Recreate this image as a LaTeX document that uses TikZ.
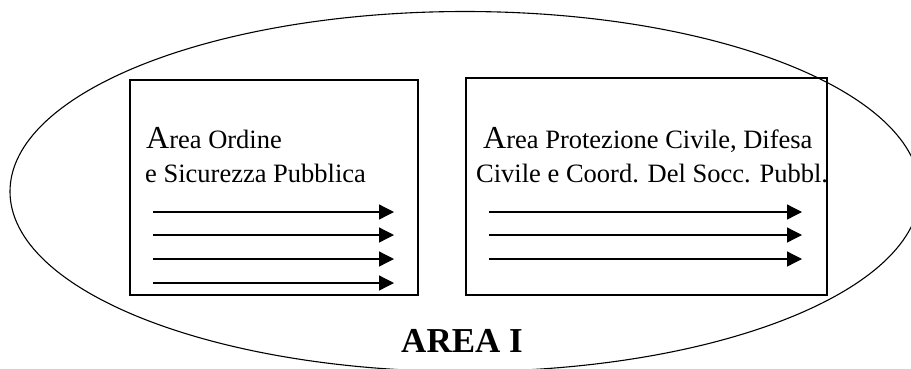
\documentclass[tikz,border=0pt]{standalone}
\usepackage{fontspec}
\setmainfont{Liberation Serif}
\usetikzlibrary{arrows.meta}
\newcommand{\bigA}{{\fontsize{32}{32}\selectfont A}}
\begin{document}
\begin{tikzpicture}[x=1pt,y=-1pt,
  areabox/.style={draw,line width=1.4pt,rectangle,inner sep=0pt},
  areatext/.style={inner sep=0pt,anchor=base west,font=\fontsize{26.5}{30}\selectfont},
  flow/.style={line width=1.3pt,-{Triangle[length=15pt,width=15pt]}},
  outer/.style={line width=1.1pt}]
  \useasboundingbox (0,0) rectangle (911,368);
  \clip (0,0) rectangle (911,368);

  % enclosing area
  \draw[outer] (465,191.5) ellipse [x radius=455, y radius=180];

  % the two sub-areas
  \node[areabox,minimum width=288pt,minimum height=215pt] (boxL) at (274,187.5) {};
  \node[areabox,minimum width=361pt,minimum height=217pt] (boxR) at (646.5,186.5) {};

  % left area text
  \node[areatext] (l1) at (146,148.5) {\bigA rea Ordine};
  \node[areatext] (l2) at (145,182) {e Sicurezza Pubblica};

  % right area text
  \node[areatext] (r1) at (483,148.5) {\bigA rea Protezione Civile, Difesa};
  \node[areatext] (r2) at (476,182) {Civile e Coord. Del Socc. Pubbl.};

  % flow arrows, left area
  \foreach \i/\y in {1/212,2/235,3/259,4/283}{
    \coordinate (la\i) at (153,\y);
    \coordinate (lb\i) at (394,\y);
    \draw[flow] (la\i) -- (lb\i);
  }
  % flow arrows, right area
  \foreach \i/\y in {1/212,2/235,3/259}{
    \coordinate (ra\i) at (489,\y);
    \coordinate (rb\i) at (802,\y);
    \draw[flow] (ra\i) -- (rb\i);
  }

  % title of the enclosing area
  \node[inner sep=0pt,anchor=base,font=\fontsize{35}{35}\selectfont\bfseries] (title) at (462,352) {AREA I};
\end{tikzpicture}
\end{document}
